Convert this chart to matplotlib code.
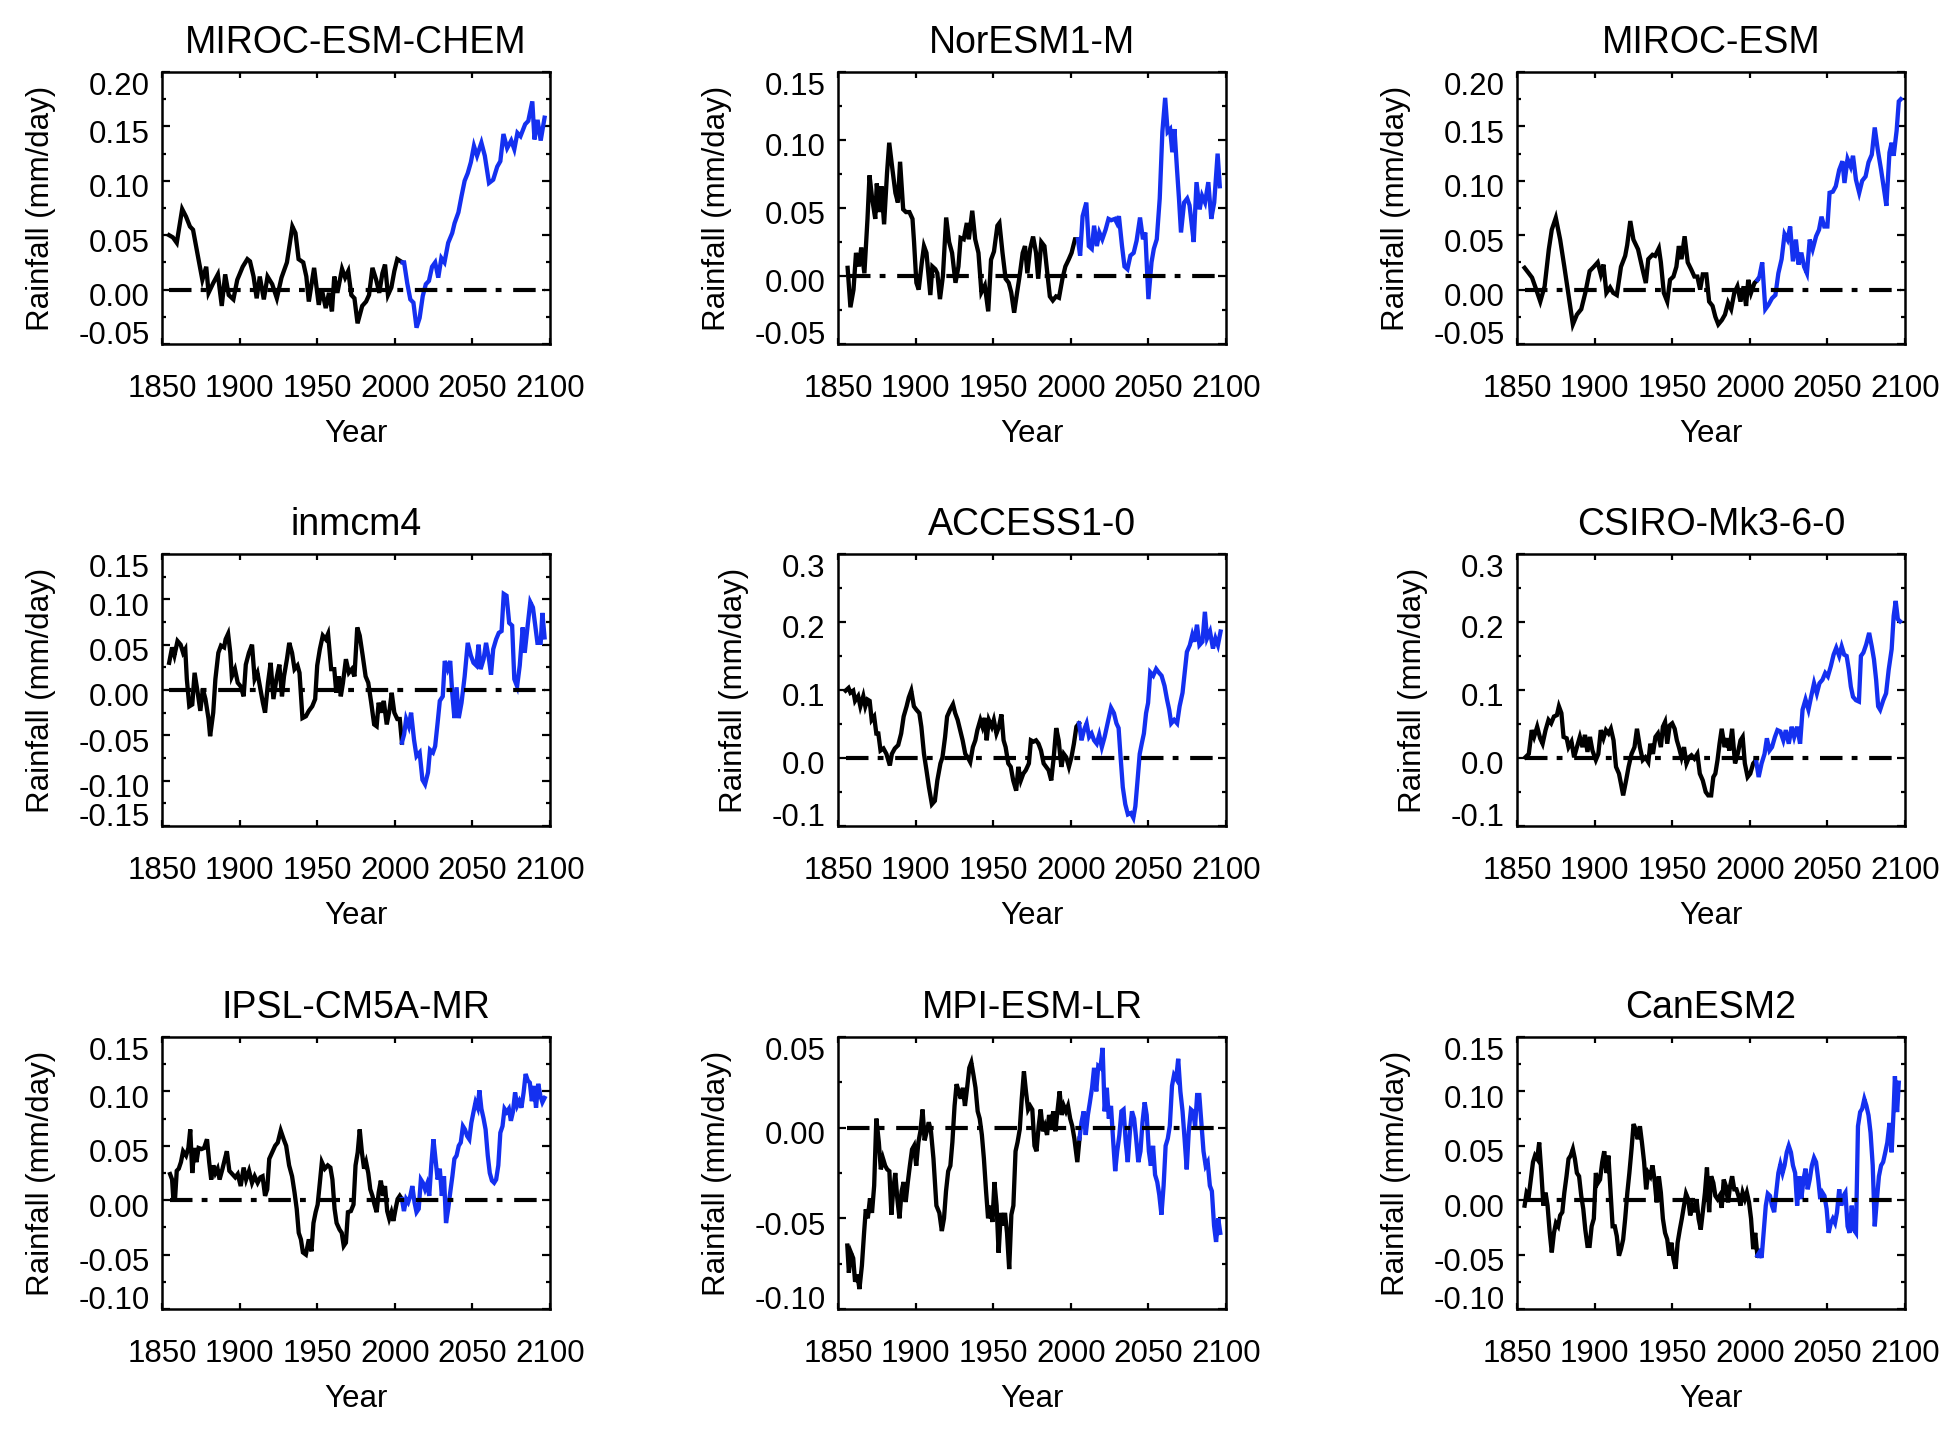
import matplotlib
matplotlib.use('Agg')
import matplotlib.pyplot as plt
import numpy as np
from matplotlib.ticker import MultipleLocator
from matplotlib.transforms import ScaledTranslation

plt.rcParams['font.family'] = ['Liberation Sans', 'DejaVu Sans']

models = ['MIROC-ESM-CHEM', 'NorESM1-M', 'MIROC-ESM',
          'inmcm4', 'ACCESS1-0', 'CSIRO-Mk3-6-0',
          'IPSL-CM5A-MR', 'MPI-ESM-LR', 'CanESM2']
ylims = [(-0.05, 0.20), (-0.05, 0.15), (-0.05, 0.20),
         (-0.15, 0.15), (-0.1, 0.3), (-0.1, 0.3),
         (-0.10, 0.15), (-0.10, 0.05), (-0.10, 0.15)]
ysteps = [0.05, 0.05, 0.05, 0.05, 0.1, 0.1, 0.05, 0.05, 0.05]
yfmt = ['%.2f', '%.2f', '%.2f', '%.2f', '%.1f', '%.1f', '%.2f', '%.2f', '%.2f']
xticks = [1850, 1900, 1950, 2000, 2050, 2100]

# (year, rainfall anomaly mm/day)
miroc_chem_hist = [(1854.6,0.050),(1857,0.048),(1859.5,0.043),(1863,0.074),(1865.5,0.067),(1868,0.058),(1870,0.055),(1873.5,0.028),(1876,0.009),(1878.5,0.021),(1880,-0.003),(1883,0.006),(1886,0.014),(1888.5,-0.015),(1890.7,0.014),(1893,-0.005),(1896,-0.009),(1898.5,0.009),(1902,0.021),(1905,0.028),(1906.7,0.026),(1909,0.012),(1911,-0.008),(1913,0.012),(1915.6,-0.009),(1918,0.012),(1921,0.005),(1924,-0.008),(1927,0.011),(1930.5,0.025),(1934,0.058),(1936,0.052),(1938,0.028),(1941,0.025),(1943,0.012),(1944.6,-0.011),(1948,0.020),(1951,-0.014),(1953,0.000),(1955.5,-0.017),(1957.6,-0.003),(1959.5,-0.020),(1961,0.012),(1963,-0.003),(1966,0.019),(1968,0.011),(1970,0.017),(1972,-0.005),(1974,-0.008),(1976,-0.031),(1979,-0.015),(1981.5,-0.011),(1983.4,-0.005),(1985.6,0.020),(1988,0.009),(1990,-0.003),(1992,0.015),(1993.7,0.023),(1995.6,-0.005),(1997.8,0.002),(1999.7,0.017),(2001.6,0.028),(2005,0.025)]
miroc_chem_rcp = [(2006,0.025),(2008,0.006),(2010,-0.009),(2012,-0.012),(2014,-0.035),(2016,-0.026),(2018,-0.006),(2020,0.005),(2022,0.008),(2024,0.021),(2026,0.025),(2028,0.011),(2030,0.029),(2032,0.025),(2034.4,0.043),(2037,0.052),(2038.5,0.061),(2041,0.071),(2043,0.086),(2045,0.100),(2047,0.107),(2049,0.117),(2051,0.132),(2053,0.123),(2055.8,0.135),(2058,0.123),(2060.7,0.098),(2063.4,0.101),(2066,0.113),(2068,0.118),(2070,0.143),(2072.4,0.130),(2075,0.137),(2077,0.129),(2079,0.144),(2081,0.141),(2084,0.152),(2086,0.155),(2088.6,0.173),(2090,0.138),(2092,0.156),(2094,0.137),(2096.5,0.158)]

noresm_hist = [(1856.2,0.006),(1858,-0.023),(1860,-0.010),(1861.6,0.017),(1863.5,0.007),(1865,0.021),(1867,0.002),(1869,0.042),(1870.3,0.074),(1872,0.057),(1874,0.042),(1875,0.068),(1876.5,0.047),(1878,0.066),(1879.7,0.038),(1881.6,0.076),(1883,0.098),(1885,0.079),(1887,0.061),(1888.6,0.054),(1890,0.084),(1892,0.049),(1893.8,0.047),(1896,0.047),(1898,0.042),(1899,0.025),(1900.5,-0.005),(1902,-0.010),(1904,0.010),(1905.4,0.022),(1907,0.017),(1909.5,-0.014),(1910.8,0.007),(1912.7,0.005),(1914,0.002),(1915.7,-0.017),(1917.6,0.000),(1919.7,0.043),(1921.6,0.025),(1923.5,0.017),(1925.7,-0.005),(1927.6,0.007),(1929,0.028),(1931,0.027),(1933,0.039),(1934.3,0.027),(1936.5,0.048),(1938.4,0.027),(1940.5,0.017),(1942.4,-0.012),(1944.6,-0.007),(1946.8,-0.026),(1948.6,0.012),(1950.5,0.018),(1952.7,0.037),(1954,0.039),(1956,0.017),(1958,-0.002),(1960,-0.005),(1961.6,-0.012),(1963.5,-0.027),(1965.4,-0.012),(1967,0.000),(1969,0.017),(1970.5,0.022),(1972,0.002),(1973.8,0.020),(1975.7,0.029),(1977.6,0.017),(1979,-0.002),(1981,0.025),(1983,0.022),(1984.6,0.005),(1986.5,-0.015),(1988.4,-0.018),(1990.5,-0.015),(1992.4,-0.016),(1994.6,-0.002),(1996.5,0.007),(1998.6,0.012),(2000.5,0.017),(2002.7,0.027),(2004.6,0.027)]
noresm_rcp = [(2006,0.015),(2007.6,0.044),(2010,0.054),(2011.6,0.022),(2013.5,0.020),(2015,0.037),(2016.8,0.022),(2018.4,0.032),(2020.3,0.027),(2022.4,0.034),(2024.3,0.042),(2026,0.041),(2028.4,0.042),(2029.7,0.039),(2031,0.044),(2033,0.022),(2034.6,0.007),(2036.5,0.005),(2038.4,0.015),(2040.5,0.017),(2042.4,0.026),(2044.6,0.043),(2046.5,0.027),(2048,0.032),(2050,-0.017),(2052,0.010),(2053.5,0.020),(2055.4,0.027),(2057.3,0.057),(2059,0.106),(2060.8,0.131),(2062.4,0.106),(2064,0.108),(2065.4,0.091),(2066.8,0.108),(2068.4,0.079),(2069.7,0.057),(2071,0.032),(2073,0.054),(2075,0.057),(2076.5,0.052),(2078,0.037),(2079.2,0.025),(2081,0.069),(2083,0.049),(2084.6,0.059),(2086.5,0.054),(2088.6,0.069),(2090.5,0.042),(2092.4,0.054),(2094.6,0.090),(2096,0.066)]

miroc_hist = [(1854.9,0.020),(1857.6,0.015),(1859.7,0.011),(1862.4,0.000),(1865,-0.011),(1867.8,0.003),(1870.5,0.037),(1872.4,0.055),(1875,0.066),(1877.8,0.046),(1880.5,0.021),(1883,-0.003),(1886,-0.032),(1888.6,-0.023),(1891.4,-0.018),(1894,-0.003),(1896.8,0.017),(1899.5,0.021),(1902,0.025),(1904,0.014),(1905.7,0.023),(1907.6,-0.003),(1910,0.002),(1912,-0.003),(1914.3,-0.005),(1917,0.021),(1919.7,0.031),(1921,0.041),(1923,0.063),(1925,0.046),(1928,0.037),(1931,0.018),(1933,0.006),(1934.6,0.028),(1937.3,0.032),(1939,0.031),(1941.4,0.038),(1942.7,0.025),(1944.6,-0.003),(1946.8,-0.011),(1948.6,0.009),(1950.8,0.012),(1952.7,0.021),(1954.3,0.040),(1956,0.028),(1958,0.049),(1960,0.025),(1962.4,0.018),(1964.3,0.012),(1966.2,0.012),(1968,0.000),(1969.7,0.014),(1972,0.014),(1973.8,-0.011),(1976,-0.015),(1977.8,-0.025),(1979.7,-0.032),(1982,-0.028),(1984,-0.023),(1986,-0.012),(1988,-0.018),(1990,-0.003),(1992,0.003),(1994,-0.011),(1996,0.003),(1997.6,-0.015),(1999,0.009),(2000.8,-0.003),(2003,0.006),(2005,0.009)]
miroc_rcp = [(2006.2,0.012),(2008,0.025),(2010,-0.018),(2012,-0.014),(2014.3,-0.008),(2016.5,-0.005),(2018.4,0.015),(2020.5,0.028),(2022.4,0.051),(2024.3,0.046),(2026,0.058),(2027.8,0.026),(2029.7,0.046),(2031.4,0.023),(2033.2,0.034),(2035,0.021),(2036.8,0.015),(2038.6,0.046),(2040.5,0.037),(2042.7,0.049),(2044.6,0.055),(2046.2,0.067),(2048,0.058),(2050,0.058),(2051.4,0.089),(2053.5,0.090),(2055.4,0.095),(2057.6,0.110),(2059.7,0.118),(2061,0.098),(2063,0.120),(2065,0.113),(2066.5,0.123),(2068.4,0.101),(2070.5,0.089),(2072.4,0.100),(2074.6,0.104),(2076.5,0.117),(2078.6,0.124),(2080.5,0.149),(2082.4,0.129),(2084.6,0.110),(2086.8,0.089),(2088,0.077),(2090,0.126),(2091.4,0.135),(2092.7,0.123),(2094.6,0.146),(2096,0.173),(2097.3,0.175)]

inmcm_hist = [(1854.6,0.030),(1856.5,0.047),(1858,0.038),(1860,0.054),(1862,0.050),(1863.6,0.041),(1865,0.045),(1866,0.012),(1867.6,-0.018),(1869.5,-0.016),(1871,0.019),(1873,-0.003),(1874.7,-0.023),(1876.3,0.001),(1878,-0.010),(1880,-0.032),(1881,-0.051),(1883,-0.025),(1884.4,0.012),(1886.3,0.041),(1888,0.049),(1890,0.047),(1891,0.056),(1892.6,0.062),(1894,0.041),(1895,0.015),(1897,0.023),(1898.8,0.008),(1900.7,0.004),(1902.6,-0.007),(1904,0.028),(1906,0.041),(1908,0.050),(1909.7,0.012),(1911.5,0.019),(1913.4,0.001),(1915,-0.014),(1916.4,-0.025),(1918.3,0.008),(1920,0.030),(1921.8,-0.010),(1923.7,0.012),(1925.6,0.028),(1927.3,-0.007),(1928.6,0.015),(1930.5,0.034),(1932,0.052),(1933.8,0.041),(1935.4,0.023),(1937.3,0.027),(1938.6,0.019),(1940.5,-0.031),(1942.7,-0.029),(1944.6,-0.023),(1946.8,-0.018),(1948.7,-0.010),(1950,0.027),(1951.7,0.045),(1953.6,0.060),(1955.5,0.056),(1957,0.062),(1959,0.023),(1961,0.023),(1962.3,-0.003),(1964,0.015),(1965.2,-0.007),(1966.6,0.008),(1968.5,0.034),(1970.4,0.019),(1972.3,0.023),(1974,0.015),(1975.8,0.069),(1977.4,0.060),(1979.3,0.038),(1981.2,0.015),(1982.9,0.008),(1984.8,-0.014),(1986.7,-0.038),(1988.3,-0.040),(1989.6,-0.014),(1991.3,-0.025),(1992.9,-0.012),(1994.8,-0.038),(1996.7,-0.021),(1998,-0.003),(1999.7,-0.025),(2001.6,-0.032),(2003.2,-0.032),(2004.6,-0.058)]
inmcm_rcp = [(2006,-0.049),(2007.3,-0.032),(2009,-0.040),(2010.5,-0.025),(2012.4,-0.055),(2014,-0.073),(2016,-0.069),(2017.8,-0.099),(2019.5,-0.104),(2021.4,-0.091),(2022.7,-0.066),(2024.6,-0.069),(2026,-0.062),(2027.6,-0.036),(2029,-0.012),(2030.9,-0.007),(2032.2,0.032),(2034,0.023),(2035.7,0.032),(2037,-0.003),(2038.4,-0.031),(2039.8,0.003),(2041.2,-0.031),(2043,-0.014),(2045,0.015),(2047,0.052),(2049,0.038),(2050.7,0.030),(2052.5,0.027),(2054,0.050),(2055.3,0.023),(2057.2,0.034),(2058.8,0.052),(2060.7,0.034),(2062,0.017),(2063.4,0.045),(2065.3,0.056),(2067,0.063),(2068.8,0.065),(2070.2,0.106),(2072,0.104),(2073.7,0.074),(2075.6,0.071),(2077,0.012),(2078.8,0.004),(2080.5,0.027),(2082.4,0.069),(2083.7,0.041),(2085.6,0.071),(2087.3,0.097),(2089,0.091),(2090.5,0.071),(2091.9,0.052),(2094,0.052),(2095.1,0.085),(2096.5,0.058)]

access_hist = [(1854.9,0.099),(1856.8,0.103),(1858,0.096),(1859.8,0.099),(1861,0.084),(1863,0.091),(1864.4,0.076),(1866.3,0.091),(1867.6,0.076),(1869,0.086),(1870.4,0.084),(1871.7,0.056),(1873.3,0.061),(1874.7,0.036),(1876,0.036),(1877.4,0.011),(1879.3,0.014),(1881.2,0.006),(1883.4,-0.011),(1884.7,0.006),(1886.6,0.014),(1888.8,0.019),(1890.7,0.036),(1892.3,0.061),(1894.2,0.076),(1895.6,0.089),(1897.2,0.099),(1898.9,0.076),(1900.5,0.071),(1902.4,0.066),(1903.7,0.046),(1905.4,0.006),(1907,-0.018),(1908.6,-0.043),(1910.5,-0.068),(1912.4,-0.063),(1914,-0.033),(1916,-0.008),(1917.3,0.001),(1919,0.031),(1920.3,0.061),(1922.2,0.071),(1924.1,0.079),(1925.5,0.066),(1927.1,0.056),(1928.7,0.041),(1930.3,0.026),(1932,0.006),(1933.6,0.001),(1935.2,-0.006),(1936.9,0.016),(1938.5,0.026),(1939.8,0.041),(1941.7,0.056),(1943.1,0.046),(1944.5,0.059),(1945.8,0.026),(1947.2,0.056),(1949.1,0.046),(1950.4,0.056),(1952.1,0.036),(1953.7,0.046),(1955.3,0.064),(1956.7,0.026),(1958,0.016),(1959.7,-0.008),(1961.3,-0.013),(1962.9,-0.033),(1964.8,-0.048),(1966.2,-0.013),(1967.8,-0.033),(1969.4,-0.023),(1971,-0.018),(1973,-0.008),(1974.3,0.026),(1975.9,0.024),(1977.6,0.026),(1979.2,0.021),(1980.8,0.011),(1982.5,-0.008),(1984.1,-0.013),(1985.7,-0.018),(1987.4,-0.033),(1989,0.001),(1990.6,0.044),(1992.2,0.026),(1993.9,-0.013),(1995.5,0.006),(1997.1,0.001),(1998.8,-0.013),(2000.4,0.001),(2002,0.021),(2003.6,0.046),(2005.3,0.051)]
access_rcp = [(2006.9,0.026),(2008.5,0.041),(2010.2,0.051),(2011.8,0.031),(2013.4,0.036),(2015,0.026),(2016.7,0.021),(2018.3,0.034),(2020,0.016),(2021.8,0.031),(2023.7,0.051),(2025.9,0.074),(2027.8,0.066),(2029.4,0.051),(2030.8,0.044),(2032.1,0.001),(2033.5,-0.043),(2035.1,-0.068),(2036.8,-0.083),(2038.7,-0.081),(2040.3,-0.088),(2041.6,-0.071),(2043,-0.033),(2044.4,0.006),(2045.7,0.021),(2047.1,0.036),(2048.5,0.066),(2049.8,0.081),(2051.2,0.126),(2053.1,0.121),(2055,0.131),(2056.6,0.126),(2058.5,0.121),(2060.4,0.106),(2062,0.086),(2063.4,0.071),(2064.7,0.051),(2066.6,0.056),(2068.5,0.051),(2070.1,0.076),(2072,0.096),(2073.4,0.126),(2074.8,0.156),(2076.7,0.166),(2078.3,0.181),(2079.6,0.171),(2081.3,0.196),(2082.9,0.166),(2084.8,0.171),(2086.4,0.215),(2087.8,0.176),(2089.7,0.186),(2091.6,0.161),(2093.2,0.176),(2094.8,0.166),(2096.5,0.186)]

csiro_hist = [(1855.4,0.001),(1857.6,0.006),(1859.5,0.041),(1861,0.031),(1863,0.046),(1864.9,0.029),(1866.5,0.021),(1868.4,0.041),(1870.3,0.056),(1872,0.051),(1873.8,0.061),(1875.7,0.063),(1877,0.076),(1878.6,0.066),(1880,0.031),(1882,0.029),(1883.2,0.016),(1885.1,0.024),(1886.8,0.001),(1888.6,0.016),(1890.5,0.031),(1892.2,0.016),(1893.8,0.034),(1895.4,0.009),(1897,0.031),(1898.6,0.011),(1900.8,-0.003),(1902.4,0.006),(1904,0.041),(1905.7,0.029),(1907.3,0.041),(1909,0.036),(1910.5,0.043),(1912.2,0.026),(1913.8,-0.013),(1915.7,-0.023),(1917,-0.038),(1918.4,-0.055),(1920.3,-0.033),(1921.9,-0.013),(1923.8,0.006),(1925.7,0.016),(1927.3,0.043),(1929.2,0.016),(1931,-0.003),(1932.7,0.001),(1934.6,-0.006),(1935.9,0.021),(1937.6,0.006),(1939.2,0.031),(1940.8,0.036),(1942.7,0.016),(1944,0.046),(1945.4,0.053),(1946.8,0.021),(1948.4,0.048),(1950,0.051),(1951.6,0.043),(1953,0.026),(1954.3,0.016),(1956,0.001),(1957.6,0.016),(1959.2,-0.008),(1960.8,0.001),(1962.4,0.004),(1964.3,-0.001),(1966.2,0.006),(1967.8,-0.023),(1969.7,-0.033),(1971.6,-0.050),(1973.2,-0.055),(1975.1,-0.055),(1976.5,-0.028),(1977.8,-0.023),(1979.2,-0.003),(1980.5,0.021),(1981.9,0.043),(1983.8,0.016),(1985.4,0.029),(1986.8,0.011),(1988.6,0.043),(1990.5,-0.008),(1992.2,0.006),(1994,0.026),(1995.4,0.031),(1996.8,-0.008),(1998.6,-0.028),(2000.3,-0.023),(2002.2,-0.008),(2004,-0.003)]
csiro_rcp = [(2005.7,-0.028),(2007.6,-0.008),(2009.5,0.006),(2011,0.029),(2012.7,0.011),(2014.3,0.016),(2016.2,0.031),(2017.8,0.041),(2019.7,0.039),(2021.6,0.026),(2023.2,0.041),(2025.1,0.021),(2027,0.046),(2028.6,0.031),(2030.5,0.046),(2032.4,0.021),(2034,0.071),(2035.9,0.086),(2037.8,0.071),(2039.5,0.090),(2041.4,0.110),(2043.2,0.095),(2044.9,0.110),(2046.8,0.115),(2048.6,0.125),(2050.3,0.120),(2052.2,0.135),(2054,0.152),(2055.7,0.162),(2057.6,0.150),(2059.2,0.164),(2060.8,0.152),(2062.4,0.150),(2063.8,0.130),(2065.1,0.105),(2066.5,0.090),(2068.4,0.085),(2070.3,0.083),(2071.6,0.150),(2073.2,0.155),(2075,0.167),(2076.9,0.184),(2078.6,0.164),(2080,0.145),(2081.4,0.115),(2082.7,0.076),(2084,0.071),(2086,0.085),(2087.8,0.095),(2089.5,0.130),(2091.4,0.160),(2092.7,0.209),(2094,0.231),(2095.4,0.204),(2096.8,0.201)]

ipsl_hist = [(1855.2,0.024),(1856.5,0.019),(1857.3,0.001),(1858.4,0.001),(1859.5,0.027),(1860.8,0.029),(1862.2,0.035),(1863.6,0.045),(1865.5,0.041),(1867,0.048),(1868.2,0.065),(1869.5,0.025),(1870.9,0.048),(1872.2,0.035),(1873.6,0.048),(1875.5,0.047),(1877.1,0.048),(1879,0.056),(1880.4,0.035),(1881.7,0.019),(1883.1,0.032),(1884.4,0.025),(1885.8,0.029),(1887.1,0.019),(1889,0.029),(1890.7,0.039),(1891.8,0.045),(1893.4,0.027),(1895.3,0.024),(1897.2,0.021),(1898.8,0.024),(1900.7,0.013),(1902.6,0.030),(1904.2,0.019),(1906.1,0.027),(1908,0.016),(1909.7,0.022),(1911.6,0.016),(1913.4,0.021),(1914.8,0.022),(1916.4,0.004),(1917.8,0.010),(1919.1,0.038),(1921,0.044),(1922.9,0.050),(1924.6,0.053),(1926.5,0.064),(1928.4,0.056),(1930,0.050),(1931.9,0.032),(1933.8,0.022),(1935.4,0.007),(1936.8,-0.008),(1938.1,-0.030),(1939.5,-0.036),(1940.8,-0.048),(1942.7,-0.050),(1944.6,-0.036),(1946.3,-0.047),(1947.6,-0.021),(1949,-0.011),(1950.3,-0.004),(1951.7,0.016),(1953,0.035),(1954.9,0.029),(1956.8,0.032),(1958.5,0.030),(1959.8,0.019),(1961.2,-0.008),(1962.5,-0.021),(1964.4,-0.027),(1965.8,-0.030),(1967.1,-0.042),(1968.5,-0.039),(1969.8,-0.011),(1971.7,-0.010),(1973.4,-0.004),(1974.7,0.032),(1976.1,0.044),(1977.4,0.065),(1978.8,0.044),(1980.2,0.029),(1981.5,0.035),(1982.9,0.025),(1984.2,0.010),(1985.6,0.004),(1986.9,-0.004),(1988.3,-0.011),(1989.6,0.007),(1991,0.018),(1992.4,0.004),(1993.7,0.013),(1995.1,-0.010),(1996.4,-0.017),(1997.8,-0.011),(1999.1,-0.019),(2000.5,-0.008),(2001.8,0.001),(2003.2,0.004),(2004.6,0.001)]
ipsl_rcp = [(2005.9,-0.010),(2007.3,0.001),(2008.6,-0.002),(2010,0.004),(2011.3,0.013),(2012.7,-0.002),(2014,-0.011),(2015.4,-0.008),(2016.8,0.019),(2018.1,0.016),(2019.5,0.010),(2020.8,0.015),(2022.2,0.004),(2023.5,0.032),(2024.9,0.056),(2026.2,0.038),(2027.6,0.019),(2029,0.029),(2030.3,0.004),(2031.7,0.022),(2033,-0.021),(2034.4,-0.008),(2035.7,0.007),(2037.1,0.022),(2038.4,0.038),(2039.8,0.041),(2041.2,0.050),(2042.5,0.053),(2043.9,0.068),(2045.2,0.065),(2046.6,0.059),(2048,0.056),(2049.3,0.071),(2050.7,0.081),(2052,0.090),(2053.4,0.085),(2054.5,0.101),(2055.8,0.084),(2057.2,0.075),(2058.5,0.065),(2059.9,0.041),(2061.2,0.025),(2062.6,0.018),(2064,0.016),(2065.3,0.019),(2066.7,0.032),(2068,0.062),(2069.4,0.068),(2070.7,0.084),(2072.1,0.081),(2073.5,0.084),(2074.8,0.073),(2076.1,0.081),(2077.5,0.099),(2078.9,0.087),(2080.2,0.091),(2081.6,0.085),(2083,0.099),(2084.3,0.116),(2085.7,0.110),(2087,0.108),(2088.3,0.091),(2089.7,0.105),(2091,0.085),(2092.4,0.107),(2093.8,0.096),(2095.1,0.090),(2096.5,0.094)]

mpi_hist = [(1856,-0.065),(1857,-0.080),(1858.4,-0.069),(1859.8,-0.072),(1861,-0.085),(1862.5,-0.081),(1863.8,-0.089),(1865.4,-0.076),(1866.8,-0.058),(1867.9,-0.045),(1869.2,-0.050),(1870.6,-0.039),(1871.9,-0.047),(1873.3,-0.032),(1874.7,0.005),(1876.3,-0.008),(1877.6,-0.023),(1879,-0.017),(1880.4,-0.021),(1881.7,-0.023),(1883.1,-0.024),(1884.4,-0.048),(1885.5,-0.035),(1886.9,-0.025),(1888.2,-0.039),(1889.6,-0.050),(1891,-0.035),(1892.3,-0.030),(1893.6,-0.041),(1895,-0.030),(1896.3,-0.021),(1897.7,-0.012),(1899,-0.010),(1900.4,-0.021),(1901.8,-0.008),(1903.1,-0.002),(1904.5,0.010),(1905.8,-0.007),(1907.2,-0.002),(1908.5,0.003),(1909.9,-0.002),(1911.5,-0.017),(1913.4,-0.043),(1915.3,-0.047),(1916.9,-0.057),(1918.3,-0.050),(1919.6,-0.035),(1921,-0.024),(1922.4,-0.021),(1923.7,-0.008),(1925.1,0.012),(1926.4,0.024),(1927.8,0.020),(1929.1,0.016),(1930.5,0.022),(1931.8,0.012),(1933.2,0.022),(1934.6,0.033),(1935.9,0.036),(1937.3,0.029),(1938.6,0.022),(1940,0.009),(1941.3,0.005),(1942.7,-0.004),(1944,-0.017),(1945.4,-0.035),(1946.7,-0.050),(1948.1,-0.043),(1949.5,-0.052),(1950.8,-0.030),(1952.2,-0.043),(1953.5,-0.069),(1954.9,-0.047),(1956.2,-0.054),(1957.6,-0.047),(1958.9,-0.058),(1960.3,-0.078),(1961.7,-0.048),(1963,-0.043),(1964.4,-0.013),(1965.7,-0.008),(1967.1,-0.001),(1968.4,0.016),(1969.8,0.031),(1971.1,0.020),(1972.5,0.010),(1973.8,0.012),(1975.2,0.010),(1976.6,-0.010),(1977.9,-0.013),(1979.3,0.001),(1980.6,0.010),(1982,-0.002),(1983.3,0.001),(1984.7,-0.004),(1986,0.007),(1987.4,0.001),(1988.7,0.009),(1990.1,-0.002),(1991.5,0.010),(1992.8,0.020),(1994.2,0.007),(1995.5,0.012),(1996.9,0.009),(1998.2,0.012),(1999.6,0.005),(2000.9,0.001),(2002.3,-0.006),(2004.2,-0.019),(2005.6,-0.006)]
mpi_rcp = [(2006.9,0.003),(2008.3,0.009),(2009.6,-0.004),(2011,0.007),(2012.3,0.014),(2013.7,0.022),(2015,0.033),(2016.4,0.020),(2017.7,0.034),(2019.1,0.033),(2020.5,0.044),(2021.8,0.009),(2023.2,0.022),(2024.5,0.005),(2025.9,0.012),(2027.2,-0.006),(2028.6,-0.024),(2029.9,-0.013),(2031.3,-0.004),(2032.6,0.009),(2034,0.010),(2035.4,-0.008),(2036.7,-0.019),(2038.1,-0.002),(2039.4,0.009),(2040.8,0.005),(2042.1,-0.006),(2043.5,-0.019),(2044.9,-0.013),(2046.2,0.003),(2047.6,0.014),(2048.9,0.007),(2050.3,-0.013),(2051.6,-0.021),(2053,-0.010),(2054.3,-0.026),(2055.7,-0.030),(2057,-0.037),(2058.4,-0.048),(2059.8,-0.032),(2061.1,-0.010),(2062.5,-0.006),(2063.8,0.001),(2065.2,0.023),(2066.5,0.029),(2067.9,0.027),(2069.2,0.038),(2070.6,0.020),(2072,0.009),(2073.3,-0.006),(2074.7,-0.023),(2076,-0.002),(2077.4,0.010),(2078.7,0.009),(2080.1,0.001),(2081.4,0.018),(2082.8,0.018),(2084.1,0.003),(2085.5,-0.013),(2086.9,-0.021),(2088.2,-0.019),(2089.6,-0.032),(2090.9,-0.035),(2092.3,-0.054),(2093.6,-0.063),(2095,-0.050),(2096.3,-0.058)]

canesm_hist = [(1854.9,-0.005),(1856.2,0.007),(1857.6,0.004),(1858.9,0.019),(1860.3,0.035),(1861.6,0.041),(1863,0.038),(1864.3,0.053),(1865.7,0.025),(1867,-0.005),(1868.4,0.007),(1869.7,-0.005),(1871.1,-0.030),(1872.4,-0.048),(1873.8,-0.030),(1875.1,-0.021),(1876.5,-0.024),(1877.8,-0.014),(1879.2,-0.011),(1880.5,0.007),(1881.9,0.022),(1883.2,0.038),(1884.6,0.041),(1886,0.047),(1887.3,0.038),(1888.6,0.025),(1890,0.022),(1891.4,0.004),(1892.7,-0.008),(1894,-0.027),(1895.4,-0.042),(1896.8,-0.042),(1898.1,-0.024),(1899.5,-0.017),(1900.8,0.025),(1902.2,0.016),(1903.5,0.019),(1904.9,0.035),(1906.2,0.045),(1907.6,0.025),(1908.9,0.041),(1910.3,0.007),(1911.6,-0.024),(1913,-0.024),(1914.3,-0.033),(1915.7,-0.051),(1917,-0.045),(1918.4,-0.036),(1919.7,-0.017),(1921.1,0.007),(1922.4,0.025),(1923.8,0.047),(1925.1,0.070),(1926.5,0.065),(1927.8,0.056),(1929.2,0.068),(1930.5,0.053),(1931.9,0.035),(1933.2,0.010),(1934.6,0.025),(1935.9,0.022),(1937.3,0.032),(1938.6,0.019),(1940,-0.002),(1941.4,0.022),(1942.7,0.007),(1944,-0.017),(1945.4,-0.030),(1946.8,-0.036),(1948.1,-0.051),(1949.5,-0.039),(1950.8,-0.054),(1952.2,-0.063),(1953.5,-0.039),(1954.9,-0.027),(1956.2,-0.017),(1957.6,-0.005),(1958.9,0.006),(1960.3,0.001),(1961.6,-0.014),(1963,-0.005),(1964.3,-0.011),(1965.7,0.001),(1967,-0.017),(1968.4,-0.027),(1969.7,-0.011),(1971.1,0.007),(1972.4,0.030),(1973.8,-0.011),(1975.1,0.022),(1976.5,0.016),(1977.8,0.004),(1979.2,0.001),(1980.5,0.004),(1981.9,-0.007),(1983.2,0.019),(1984.6,0.013),(1986,-0.002),(1987.3,0.013),(1988.6,0.022),(1990,0.010),(1991.4,0.010),(1992.7,0.004),(1994,-0.005),(1995.4,0.007),(1996.8,0.001),(1998.1,0.007),(1999.5,-0.002),(2000.8,-0.017),(2002.2,-0.045),(2003.5,-0.030),(2004.9,-0.051)]
canesm_rcp = [(2006.2,-0.048),(2007.6,-0.053),(2008.9,-0.030),(2010.3,-0.005),(2011.6,0.006),(2013,0.004),(2014.3,-0.005),(2015.7,-0.011),(2017,0.007),(2018.4,0.025),(2019.7,0.033),(2021.1,0.025),(2022.4,0.032),(2023.8,0.044),(2025.1,0.050),(2026.5,0.044),(2027.8,0.032),(2029.2,0.025),(2030.5,-0.005),(2031.9,0.022),(2033.2,0.001),(2034.6,0.019),(2035.9,0.029),(2037.3,0.010),(2038.6,0.019),(2040,0.032),(2041.4,0.039),(2042.7,0.035),(2044.1,0.019),(2045.4,0.001),(2046.8,0.007),(2048.1,0.004),(2049.5,-0.008),(2050.8,-0.030),(2052.2,-0.021),(2053.5,-0.017),(2054.9,-0.021),(2056.2,-0.011),(2057.6,0.010),(2058.9,-0.005),(2060.3,0.004),(2061.6,0.007),(2063,-0.024),(2064.3,-0.030),(2065.7,-0.005),(2067,-0.027),(2068.4,-0.030),(2069.7,0.068),(2071.1,0.081),(2072.4,0.084),(2073.8,0.093),(2075.1,0.087),(2076.5,0.078),(2077.8,0.062),(2079.2,0.032),(2080.5,-0.024),(2081.9,0.001),(2083.2,0.022),(2084.6,0.032),(2085.9,0.035),(2087.3,0.044),(2088.6,0.053),(2090,0.071),(2091.4,0.044),(2092.7,0.084),(2093.5,0.114),(2094.9,0.081),(2096,0.108)]

hist_series = [miroc_chem_hist, noresm_hist, miroc_hist, inmcm_hist, access_hist,
               csiro_hist, ipsl_hist, mpi_hist, canesm_hist]
rcp_series = [miroc_chem_rcp, noresm_rcp, miroc_rcp, inmcm_rcp, access_rcp,
              csiro_rcp, ipsl_rcp, mpi_rcp, canesm_rcp]

W, H = 1957, 1438
fig = plt.figure(figsize=(W / 100, H / 100), dpi=100)

col_left = [162, 838, 1517]
row_top = [72, 554, 1037]
ax_w, ax_h = 388, 272

blue = '#1430f0'
shift = ScaledTranslation(0, -5 / 100, fig.dpi_scale_trans)

for i, name in enumerate(models):
    r, c = divmod(i, 3)
    ax = fig.add_axes([col_left[c] / W, 1 - (row_top[r] + ax_h) / H, ax_w / W, ax_h / H])

    hx, hy = np.array(hist_series[i]).T
    fx, fy = np.array(rcp_series[i]).T
    ax.plot(hx, hy, color='black', lw=3.1, solid_joinstyle='miter')
    ax.plot(np.r_[hx[-1], fx], np.r_[hy[-1], fy], color=blue, lw=3.1, solid_joinstyle='miter')
    ax.plot([hx[0], fx[-1]], [0, 0], color='black', lw=3.0,
            dashes=(5.4, 2.2, 1.4, 2.8), dash_capstyle='butt')

    lo, hi = ylims[i]
    step = ysteps[i]
    ax.set_xlim(1850, 2100)
    ax.set_ylim(lo, hi)
    ax.set_xticks(xticks)
    ticks = np.round(np.arange(lo, hi + step / 2, step), 3) + 0.0
    ax.set_yticks(ticks)
    ax.set_yticklabels([yfmt[i] % t for t in ticks])
    ax.yaxis.set_minor_locator(MultipleLocator(step / 2))

    ax.tick_params(axis='both', which='both', direction='in', top=True, right=True,
                   labelsize=22.5, width=1.6)
    ax.tick_params(axis='x', which='major', length=4.5, pad=21.5)
    ax.tick_params(axis='y', which='major', length=5.5, pad=9)
    ax.tick_params(axis='y', which='minor', length=3)
    for sp in ax.spines.values():
        sp.set_linewidth(1.8)

    labs = ax.get_yticklabels()
    for lab in labs[1:-1]:
        lab.set_transform(lab.get_transform() + shift)
    labs[-1].set_va('top')
    labs[0].set_va('baseline')

    ax.set_title(name, fontsize=27, pad=14)
    ax.set_xlabel('Year', fontsize=22.5, labelpad=11)
    ax.set_ylabel('Rainfall (mm/day)', fontsize=22.5, labelpad=16)

fig.savefig('out.png', dpi=100)
